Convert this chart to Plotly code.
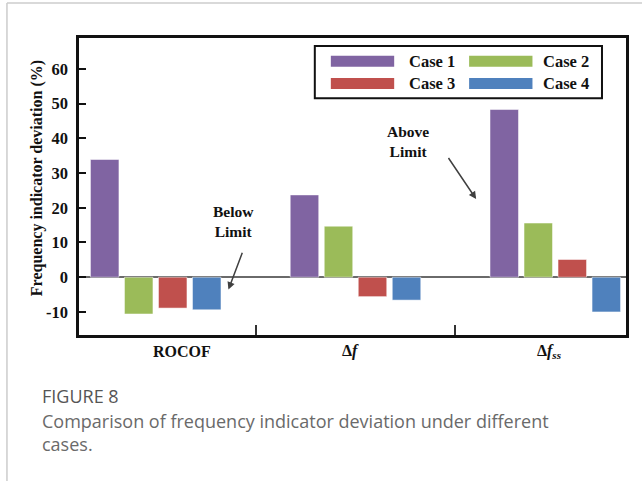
import plotly.graph_objects as go

# ---------------- data ----------------
categories = ["ROCOF", "Δf", "Δf_ss"]
category_labels = ["<b>ROCOF</b>", "<b>Δ<i>f</i></b>", "<b>Δ<i>f</i><sub><i>ss</i></sub></b>"]
case_names = ["Case 1", "Case 2", "Case 3", "Case 4"]
case1 = [33.9, 23.7, 48.3]
case2 = [-10.6, 14.7, 15.6]
case3 = [-8.9, -5.6, 5.1]
case4 = [-9.4, -6.6, -10.0]
series = [case1, case2, case3, case4]
colors = ["#8064A2", "#9BBB59", "#C0504D", "#4F81BD"]
y_tick_vals = [-10, 0, 10, 20, 30, 40, 50, 60]
y_tick_text = ["-10", "0", "10", "20", "30", "40", "50", "60"]

SERIF = "Liberation Serif, Times New Roman, serif"

fig = go.Figure()
for name, vals, col in zip(case_names, series, colors):
    fig.add_trace(go.Bar(
        x=categories, y=vals, name=name, marker_color=col,
        marker_line=dict(color="rgba(255,255,255,0.5)", width=1),
        showlegend=False,
    ))

fig.update_layout(
    width=642, height=481,
    margin=dict(l=79, r=16.3, t=38, b=145.5),
    paper_bgcolor="white", plot_bgcolor="white",
    barmode="group", bargap=0.319, bargroupgap=0.162,
    font=dict(family=SERIF, size=16, color="#111"),
)
fig.update_xaxes(
    type="category", range=[-0.384, 2.354],
    showline=True, linecolor="#111", linewidth=2.5, mirror=True,
    ticks="inside", tickson="boundaries", ticklen=10, tickwidth=2, tickcolor="#333",
    showticklabels=False, showgrid=False, zeroline=False,
)
fig.update_yaxes(
    range=[-16.65, 68.9], tickvals=y_tick_vals, ticktext=y_tick_text,
    showline=True, linecolor="#111", linewidth=2.5, mirror=True,
    ticks="inside", ticklen=7, tickwidth=1.5, tickcolor="#111",
    tickfont=dict(family=SERIF, size=16.5, color="#111", weight="bold"),
    ticklabelstandoff=5,
    showgrid=False, zeroline=True, zerolinecolor="#6a6a6a", zerolinewidth=2,
)

# category labels
label_offsets = [0.132, -0.027, -0.03]
for i, (lab, off) in enumerate(zip(category_labels, label_offsets)):
    fig.add_annotation(x=i + off, y=-0.0545, xref="x", yref="paper", text=lab,
                       showarrow=False, font=dict(family=SERIF, size=16, color="#111"),
                       xanchor="center", yanchor="middle")

# y-axis title
fig.add_annotation(x=-0.0768, y=0.528, xref="paper", yref="paper",
                   text="<b>Frequency indicator deviation (%)</b>", textangle=-90,
                   showarrow=False, font=dict(family=SERIF, size=16, color="#111"),
                   xanchor="center", yanchor="middle")

# text notes and arrows
fig.add_annotation(x=0.387, y=16.0, xref="x", yref="y", text="<b>Below<br>Limit</b>",
                   showarrow=False, font=dict(family=SERIF, size=15.5, color="#111"))
fig.add_annotation(x=0.364, y=-3.57, xref="x", yref="y", text="", showarrow=True,
                   ax=14.4, ay=-38.3, arrowhead=2, arrowsize=1, arrowwidth=1.5,
                   arrowcolor="#404040")
fig.add_annotation(x=1.262, y=39.0, xref="x", yref="y", text="<b>Above<br>Limit</b>",
                   showarrow=False, font=dict(family=SERIF, size=15.5, color="#111"))
fig.add_annotation(x=1.604, y=22.5, xref="x", yref="y", text="", showarrow=True,
                   ax=-28.7, ay=-42.6, arrowhead=2, arrowsize=1, arrowwidth=1.5,
                   arrowcolor="#404040")

# custom legend (wide swatches, 2 columns)
fig.add_shape(type="rect", xref="paper", yref="paper", x0=0.4311, x1=0.9561,
              y0=0.7973, y1=0.9731, line=dict(color="#111", width=2), fillcolor="white")
sw_x0 = [0.4604, 0.7132]
sw_w = 0.1158
txt_x = [0.6000, 0.8451]
row_y = [0.9217, 0.8471]
for i, (name, col) in enumerate(zip(case_names, colors)):
    c, r = i % 2, i // 2
    fig.add_shape(type="rect", xref="paper", yref="paper",
                  x0=sw_x0[c], x1=sw_x0[c] + sw_w, y0=row_y[r] - 0.0185, y1=row_y[r] + 0.0185,
                  line=dict(width=0), fillcolor=col)
    fig.add_annotation(x=txt_x[c], y=row_y[r], xref="paper", yref="paper",
                       text="<b>" + name + "</b>", showarrow=False, xanchor="left",
                       yanchor="middle", font=dict(family=SERIF, size=16.5, color="#111"))

# outer frame lines (page decoration)
fig.add_shape(type="line", xref="paper", yref="paper", x0=-0.1317, x1=1.05,
              y0=1.1176, y1=1.1176, line=dict(color="#cccccc", width=1.5))
fig.add_shape(type="line", xref="paper", yref="paper", x0=-0.1317, x1=-0.1317,
              y0=1.1176, y1=-0.5, line=dict(color="#cccccc", width=1.5))

# caption
CAP = "Open Sans, Lato, sans-serif"
fig.add_annotation(x=-0.0713, y=-0.2057, xref="paper", yref="paper", text="FIGURE 8",
                   showarrow=False, xanchor="left", yanchor="middle",
                   font=dict(family=CAP, size=18, color="#555"))
fig.add_annotation(x=-0.0713, y=-0.328, xref="paper", yref="paper",
                   text="Comparison of frequency indicator deviation under different<br>cases.",
                   showarrow=False, xanchor="left", yanchor="middle", align="left",
                   font=dict(family=CAP, size=18, color="#6a6a6a"))

fig.write_html("out.html")
